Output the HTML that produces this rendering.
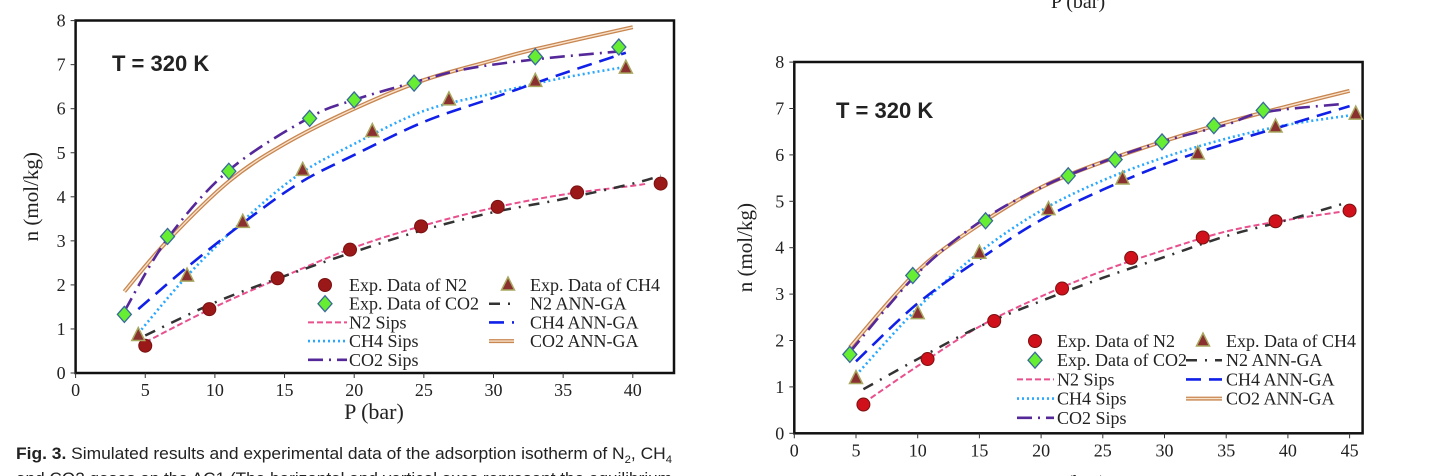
<!DOCTYPE html>
<html><head><meta charset="utf-8">
<style>
html,body{margin:0;padding:0;background:#fff;width:1443px;height:476px;overflow:hidden}
svg{display:block}
text{font-family:"Liberation Serif",serif;fill:#222}
.sans{font-family:"Liberation Sans",sans-serif}
</style></head>
<body>
<svg id="fig" width="1443" height="476" viewBox="0 0 1443 476" xmlns="http://www.w3.org/2000/svg">
<g id="left"></g>
<g id="right"></g>
<text x="1078" y="8" text-anchor="middle" font-size="20">P (bar)</text>
<text x="1078" y="490" text-anchor="middle" font-size="21">P (bar)</text>
<text class="sans" x="16" y="459" font-size="17" textLength="656" lengthAdjust="spacingAndGlyphs"><tspan font-weight="bold">Fig. 3.</tspan>  Simulated results and experimental data of the adsorption isotherm of N<tspan font-size="11" dy="4">2</tspan><tspan dy="-4">, CH</tspan><tspan font-size="11" dy="4">4</tspan></text>
<text class="sans" x="16" y="484" font-size="17" textLength="656" lengthAdjust="spacingAndGlyphs">and CO2 gases on the AC1 (The horizontal and vertical axes represent the equilibrium</text>
</svg>
<script>
// ---- Left chart data ----
const L_xTicks = [0,5,10,15,20,25,30,35,40];
const L_yTicks = [0,1,2,3,4,5,6,7,8];
const L_n2ExpP = [5,9.6,14.5,19.7,24.8,30.3,36,42];
const L_n2ExpN = [0.62,1.45,2.15,2.8,3.33,3.77,4.1,4.3];
const L_ch4ExpP = [4.5,8,12,16.3,21.3,26.8,33,39.5];
const L_ch4ExpN = [0.85,2.2,3.42,4.6,5.48,6.2,6.62,6.92];
const L_co2ExpP = [3.5,6.6,11,16.8,20,24.3,33,39];
const L_co2ExpN = [1.33,3.1,4.58,5.78,6.2,6.58,7.18,7.4];
const L_n2SipsP = [5,10,15,20,25,30,35,40,41];
const L_n2SipsN = [0.7,1.5,2.2,2.85,3.35,3.75,4.05,4.25,4.3];
const L_n2AnnP = [5,10,15,20,25,30,35,40,42];
const L_n2AnnN = [0.85,1.6,2.2,2.75,3.25,3.65,3.95,4.3,4.48];
const L_ch4SipsP = [4.5,8,12,16,20,25,30,35,39.5];
const L_ch4SipsN = [0.9,2.2,3.45,4.5,5.2,5.95,6.35,6.7,6.95];
const L_ch4AnnP = [4.5,8,12,16,20,25,30,35,39.5];
const L_ch4AnnN = [1.45,2.4,3.4,4.3,4.95,5.7,6.25,6.8,7.27];
const L_co2AnnP = [3.5,6.6,11,15,20,25,30,33,40];
const L_co2AnnN = [1.85,3.0,4.35,5.2,6.0,6.65,7.1,7.35,7.85];
const L_co2SipsP = [3.5,6.6,11,16.8,20,24.3,28,33,39];
const L_co2SipsN = [1.4,3.05,4.6,5.8,6.2,6.6,6.9,7.12,7.3];
// ---- Right chart data ----
const R_xTicks = [0,5,10,15,20,25,30,35,40,45];
const R_yTicks = [0,1,2,3,4,5,6,7,8];
const R_n2ExpP = [5.6,10.8,16.2,21.7,27.3,33.1,39,45];
const R_n2ExpN = [0.62,1.6,2.42,3.12,3.78,4.22,4.57,4.8];
const R_ch4ExpP = [5,10,15,20.6,26.6,32.7,39,45.5];
const R_ch4ExpN = [1.18,2.58,3.88,4.82,5.48,6.02,6.6,6.88];
const R_co2ExpP = [4.5,9.6,15.5,22.2,26,29.8,34,38];
const R_co2ExpN = [1.7,3.4,4.58,5.55,5.9,6.28,6.63,6.96];
const R_n2SipsP = [5.6,10,15,20,25,30,35,40,45];
const R_n2SipsN = [0.65,1.45,2.3,2.95,3.5,3.95,4.35,4.6,4.8];
const R_n2AnnP = [5.6,10,15,20,25,30,35,40,44.5];
const R_n2AnnN = [0.95,1.6,2.3,2.85,3.35,3.8,4.25,4.6,4.95];
const R_ch4SipsP = [5,10,15,20,25,30,35,40,45];
const R_ch4SipsN = [1.25,2.7,3.9,4.8,5.45,5.95,6.35,6.65,6.85];
const R_ch4AnnP = [5,10,15,20,25,30,35,40,45];
const R_ch4AnnN = [1.55,2.8,3.75,4.6,5.25,5.8,6.25,6.65,7.05];
const R_co2AnnP = [4.5,10,15,20,25,30,35,40,45];
const R_co2AnnN = [1.85,3.5,4.5,5.3,5.85,6.3,6.7,7.05,7.38];
const R_co2SipsP = [4.5,10,15,20,25,30,35,38,44.5];
const R_co2SipsN = [1.75,3.45,4.55,5.3,5.85,6.3,6.65,6.92,7.1];
const legendLabels = ["Exp. Data of N2","Exp. Data of CH4","Exp. Data of CO2","N2 ANN-GA","N2 Sips","CH4 ANN-GA","CH4 Sips","CO2 ANN-GA","CO2 Sips"];

const NS="http://www.w3.org/2000/svg";
function mk(parent,tag,attrs){const e=document.createElementNS(NS,tag);for(const k in attrs)e.setAttribute(k,attrs[k]);parent.appendChild(e);return e;}

function smooth(pts){
  let d=`M${pts[0][0]},${pts[0][1]}`;
  for(let i=0;i<pts.length-1;i++){
    const p0=pts[i-1]||pts[i],p1=pts[i],p2=pts[i+1],p3=pts[i+2]||p2;
    const c1=[p1[0]+(p2[0]-p0[0])/6,p1[1]+(p2[1]-p0[1])/6];
    const c2=[p2[0]-(p3[0]-p1[0])/6,p2[1]-(p3[1]-p1[1])/6];
    d+=` C${c1[0]},${c1[1]} ${c2[0]},${c2[1]} ${p2[0]},${p2[1]}`;
  }
  return d;
}
const styles={
  n2Sips:[{stroke:"#e8508e","stroke-width":2,"stroke-dasharray":"6,3"}],
  n2Ann:[{stroke:"#333","stroke-width":2.5,"stroke-dasharray":"11,8,2,8"}],
  ch4Sips:[{stroke:"#2aa8ff","stroke-width":2.6,"stroke-dasharray":"2,3"}],
  ch4Ann:[{stroke:"#1020e8","stroke-width":2.6,"stroke-dasharray":"15,8"}],
  co2Ann:[{stroke:"#c88650","stroke-width":4},{stroke:"#f8e2cc","stroke-width":1.4}],
  co2Sips:[{stroke:"#55289a","stroke-width":2.6,"stroke-dasharray":"15,6,2,6"}]
};
function marker(g,type,cx,cy,n2color){
  let m;
  if(type==="n2"){m=mk(g,"circle",{cx,cy,r:6.5,fill:n2color,stroke:"#7a1010","stroke-width":1});}
  else if(type==="ch4"){m=mk(g,"polygon",{points:`${cx},${cy-8} ${cx+6.5},${cy+5} ${cx-6.5},${cy+5}`,fill:"#8b3030",stroke:"#a8a860","stroke-width":1.5});}
  else {m=mk(g,"polygon",{points:`${cx},${cy-8} ${cx+7},${cy} ${cx},${cy+8} ${cx-7},${cy}`,fill:"#66ee33",stroke:"#3a6a9a","stroke-width":1.3});}
  return m;
}

function chart(g,cfg){
  const X=v=>cfg.x0+(v-0)*cfg.sx, Y=v=>cfg.y0-v*cfg.sy;
  const frame=mk(g,"rect",{x:cfg.x0,y:cfg.top,width:cfg.right-cfg.x0,height:cfg.y0-cfg.top,fill:"none",stroke:"#111","stroke-width":2.5});
  
  
  cfg.xTicks.forEach(t=>{
    const l=mk(g,"line",{x1:X(t),x2:X(t),y1:cfg.y0,y2:cfg.y0+5,stroke:"#333","stroke-width":1});
    
    
    const tx=mk(g,"text",{x:X(t),y:cfg.y0+23,"text-anchor":"middle","font-size":18});
    tx.textContent=t;
    
    
  });
  cfg.yTicks.forEach(t=>{
    const l=mk(g,"line",{x1:cfg.x0-5,x2:cfg.x0,y1:Y(t),y2:Y(t),stroke:"#333","stroke-width":1});
    
    
    const tx=mk(g,"text",{x:cfg.x0-10,y:Y(t)+6,"text-anchor":"end","font-size":18});
    tx.textContent=t;
    
    
  });
  const yt=mk(g,"text",{x:0,y:0,"text-anchor":"middle","font-size":21,transform:`translate(${cfg.ytx},${(cfg.top+cfg.y0)/2}) rotate(-90)`});
  yt.textContent="n (mol/kg)";
  
  
  if(cfg.xTitle){
    const xt=mk(g,"text",{x:cfg.xTitle[0],y:cfg.xTitle[1],"text-anchor":"middle","font-size":22});
    xt.textContent="P (bar)";
    
    
  }
  const tl=mk(g,"text",{x:cfg.tl[0],y:cfg.tl[1],"font-size":22,"font-weight":"bold",class:"sans"});
  tl.textContent="T = 320 K";
  
  
  cfg.curves.forEach(c=>{
    const pts=c.p.map((p,i)=>[X(p),Y(c.n[i])]);
    styles[c.s].forEach(st=>{
      const a=Object.assign({d:smooth(pts),fill:"none"},st);
      const path=mk(g,"path",a);
      
      
    });
  });
  cfg.markers.forEach(m=>{
    m.p.forEach((p,i)=>{
      const e=marker(g,m.t,X(p),Y(m.n[i]),cfg.n2color);
      
      
    });
  });
  const L=cfg.leg;
  const items=[
    {col:0,row:0,m:"n2",label:0},{col:1,row:0,m:"ch4",label:1},
    {col:0,row:1,m:"co2",label:2},{col:1,row:1,s:"n2Ann",label:3},
    {col:0,row:2,s:"n2Sips",label:4},{col:1,row:2,s:"ch4Ann",label:5},
    {col:0,row:3,s:"ch4Sips",label:6},{col:1,row:3,s:"co2Ann",label:7},
    {col:0,row:4,s:"co2Sips",label:8}];
  items.forEach(it=>{
    const ly=L.y+it.row*L.dy;
    const lx=L.cols[it.col];
    const grp=mk(g,"g",{});
    
    
    if(it.m){marker(grp,it.m,lx.mark,ly,cfg.n2color);}
    else styles[it.s].forEach(st=>mk(grp,"path",Object.assign({d:`M${lx.l1},${ly} L${lx.l2},${ly}`,fill:"none"},st)));
    const t=mk(grp,"text",{x:lx.text,y:ly+6,"font-size":18});
    t.textContent=legendLabels[it.label];
  });
}

chart(document.getElementById("left"),{
  x0:75.6,sx:13.93,y0:373,sy:44.05,top:20.5,right:674,ytx:38,
  xTicks:L_xTicks,yTicks:L_yTicks,xTitle:[374,419],tl:[112,71],n2color:"#9a1818",
  curves:[
    {p:L_n2SipsP,n:L_n2SipsN,s:"n2Sips",name:"n2-sips-line"},
    {p:L_n2AnnP,n:L_n2AnnN,s:"n2Ann",name:"n2-ann-ga-line"},
    {p:L_ch4SipsP,n:L_ch4SipsN,s:"ch4Sips",name:"ch4-sips-line"},
    {p:L_ch4AnnP,n:L_ch4AnnN,s:"ch4Ann",name:"ch4-ann-ga-line"},
    {p:L_co2AnnP,n:L_co2AnnN,s:"co2Ann",name:"co2-ann-ga-line"},
    {p:L_co2SipsP,n:L_co2SipsN,s:"co2Sips",name:"co2-sips-line"}],
  markers:[
    {p:L_n2ExpP,n:L_n2ExpN,t:"n2",name:"n2-exp-point"},
    {p:L_ch4ExpP,n:L_ch4ExpN,t:"ch4",name:"ch4-exp-point"},
    {p:L_co2ExpP,n:L_co2ExpN,t:"co2",name:"co2-exp-point"}],
  leg:{y:285,dy:18.7,cols:[{mark:325,l1:308,l2:347,text:349},{mark:508,l1:489,l2:514,text:530}]}
});
chart(document.getElementById("right"),{
  x0:794.3,sx:12.34,y0:433.3,sy:46.4,top:62,right:1362.6,ytx:752,
  xTicks:R_xTicks,yTicks:R_yTicks,xTitle:null,tl:[836,118],n2color:"#d0101a",
  curves:[
    {p:R_n2SipsP,n:R_n2SipsN,s:"n2Sips",name:"n2-sips-line"},
    {p:R_n2AnnP,n:R_n2AnnN,s:"n2Ann",name:"n2-ann-ga-line"},
    {p:R_ch4SipsP,n:R_ch4SipsN,s:"ch4Sips",name:"ch4-sips-line"},
    {p:R_ch4AnnP,n:R_ch4AnnN,s:"ch4Ann",name:"ch4-ann-ga-line"},
    {p:R_co2AnnP,n:R_co2AnnN,s:"co2Ann",name:"co2-ann-ga-line"},
    {p:R_co2SipsP,n:R_co2SipsN,s:"co2Sips",name:"co2-sips-line"}],
  markers:[
    {p:R_n2ExpP,n:R_n2ExpN,t:"n2",name:"n2-exp-point"},
    {p:R_ch4ExpP,n:R_ch4ExpN,t:"ch4",name:"ch4-exp-point"},
    {p:R_co2ExpP,n:R_co2ExpN,t:"co2",name:"co2-exp-point"}],
  leg:{y:341,dy:19.2,cols:[{mark:1035,l1:1017,l2:1054,text:1057},{mark:1203,l1:1186,l2:1222,text:1226}]}
});
</script>
</body></html>
